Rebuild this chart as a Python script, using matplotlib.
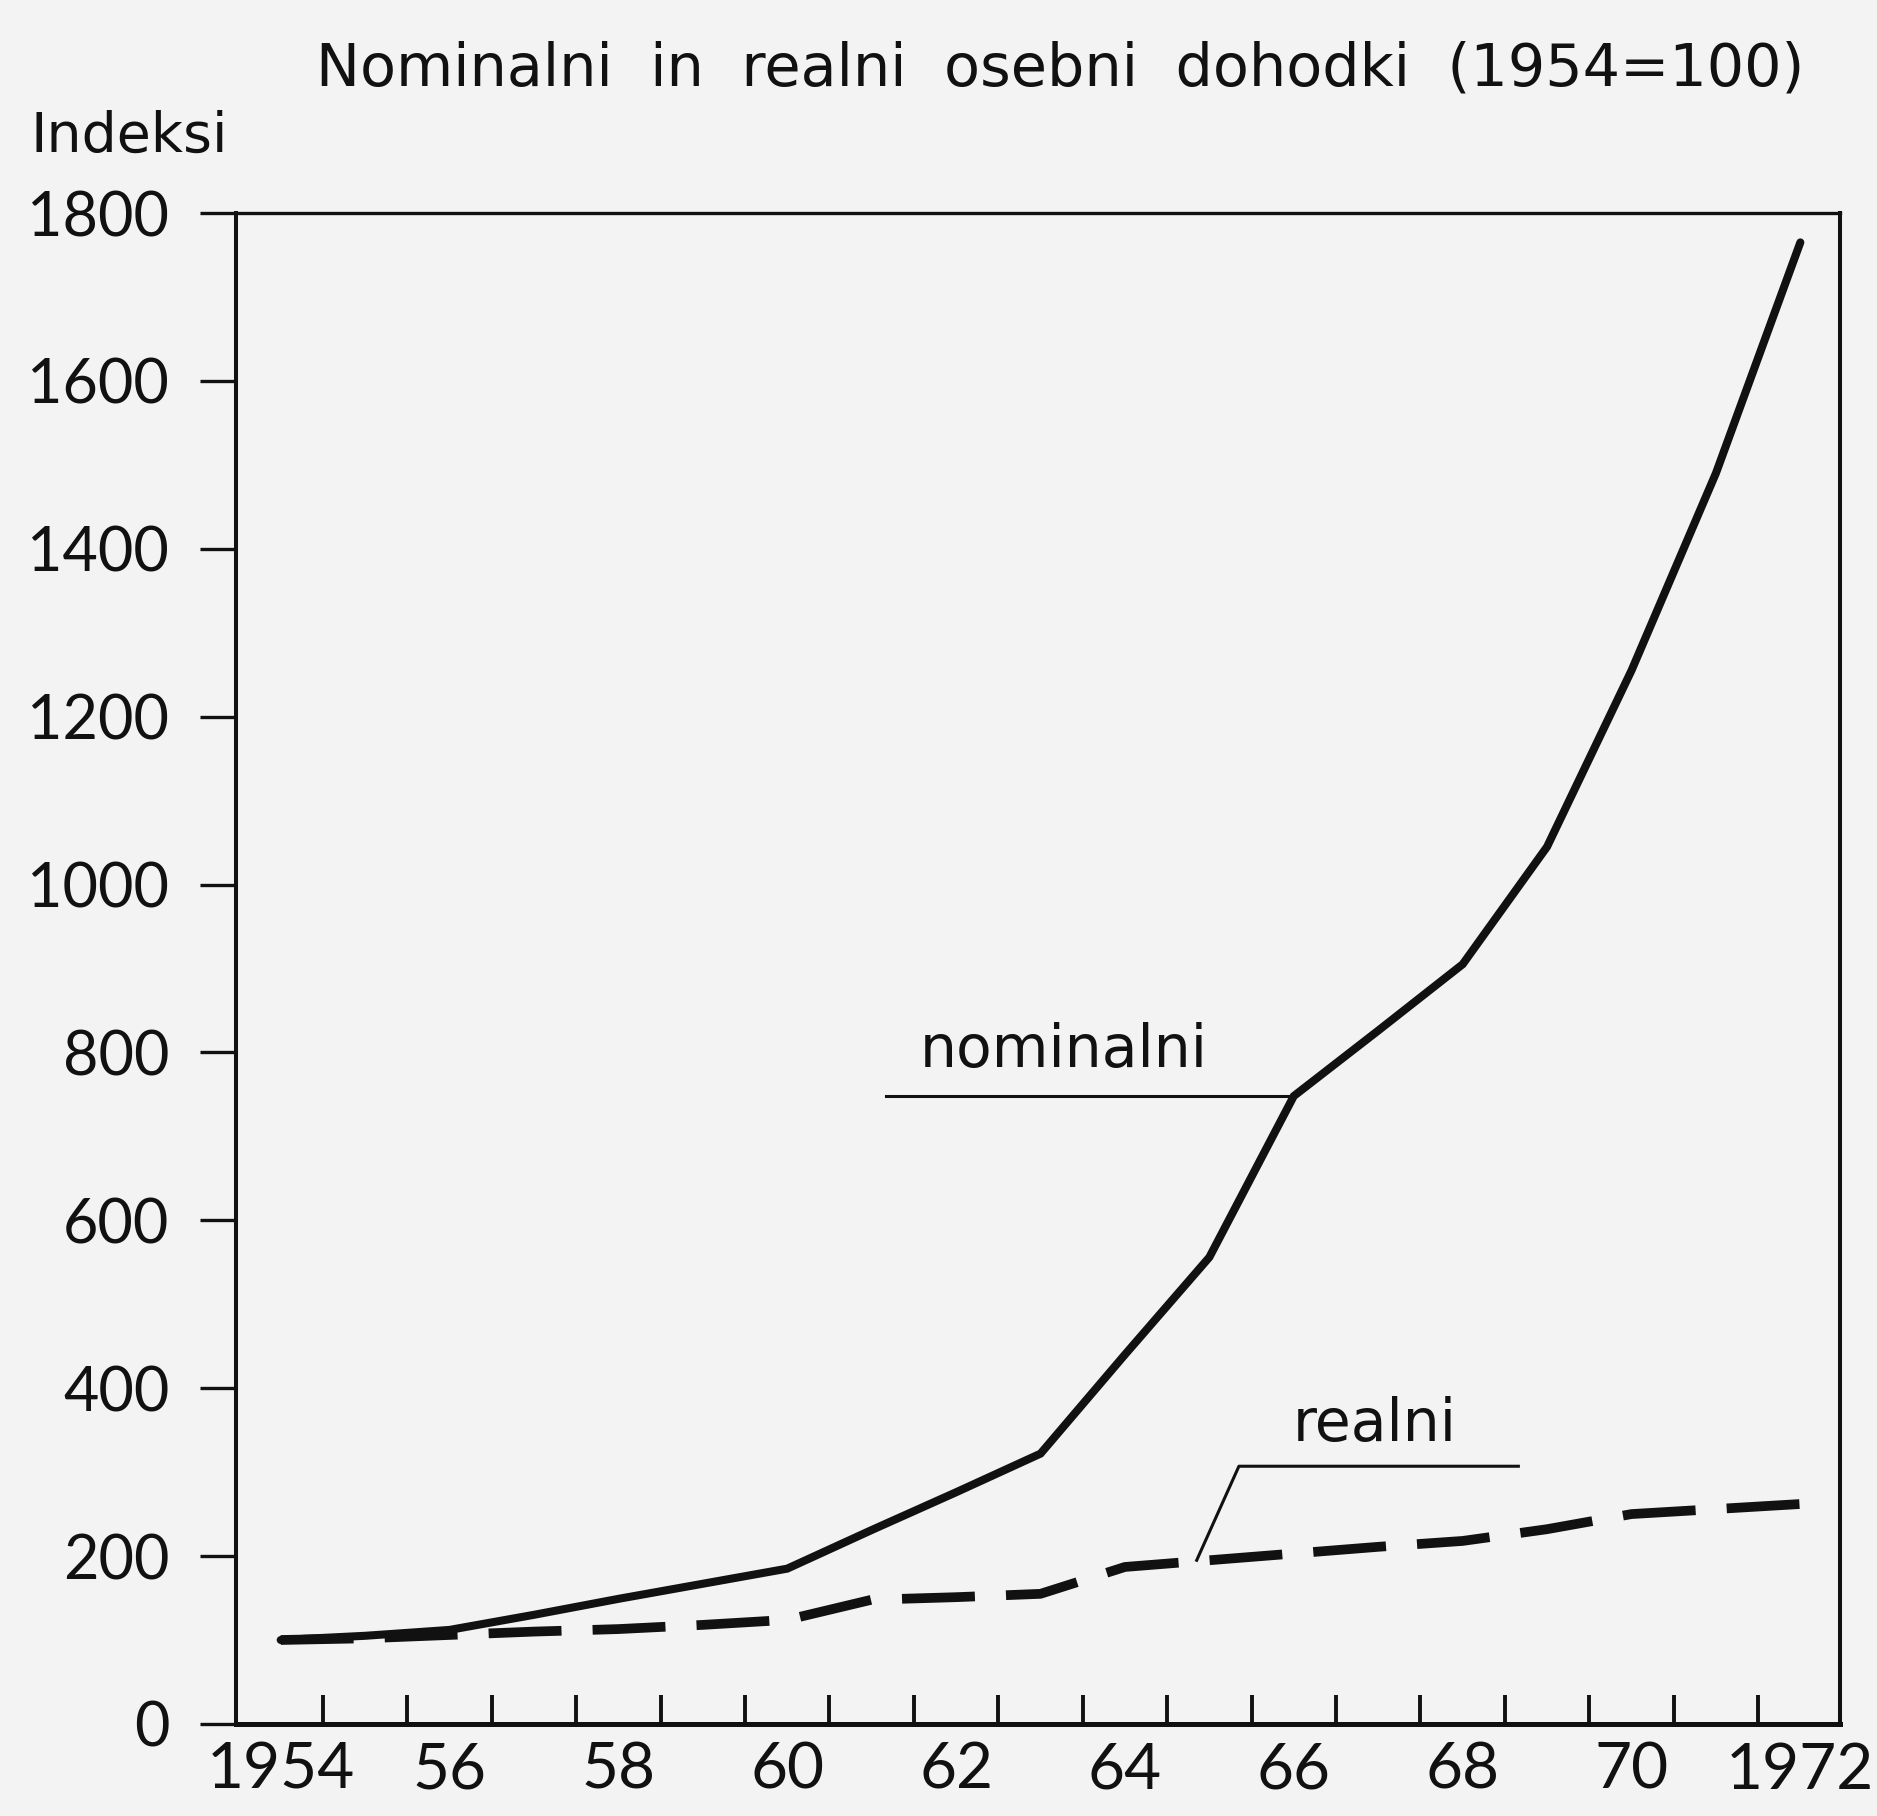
import matplotlib
matplotlib.use('Agg')
import matplotlib.pyplot as plt

# ---- data ----
years = list(range(1954, 1973))
nominalni = [100, 105, 112, 130, 149, 167, 185, 231, 276, 322,
             440, 556, 748, 826, 905, 1045, 1255, 1490, 1765]
realni = [100, 102, 106, 110, 113, 118, 124, 148, 151, 155,
          187, 195, 203, 211, 218, 232, 250, 256, 262]
y_ticks = [0, 200, 400, 600, 800, 1000, 1200, 1400, 1600, 1800]
y_tick_labels = ['0', '200', '400', '600', '800', '1000', '1200', '1400', '1600', '1800']
x_label_years = [1954, 1956, 1958, 1960, 1962, 1964, 1966, 1968, 1970, 1972]
x_labels = ['1954', '56', '58', '60', '62', '64', '66', '68', '70', '1972']
title_words = ['Nominalni', 'in', 'realni', 'osebni', 'dohodki', '(1954=100)']
y_title = 'Indeksi'
label_nom = 'nominalni'
label_real = 'realni'

NUM_FONT = ['Lato', 'DejaVu Sans']
TXT_FONT = ['DejaVu Sans']
plt.rcParams['font.family'] = NUM_FONT
BG = '#f3f3f3'
INK = '#111111'

fig = plt.figure(figsize=(18.77, 18.16), dpi=100, facecolor=BG)
ax = fig.add_axes([0.1257, 0.0507, 0.8546, 0.832])
ax.set_facecolor(BG)

ax.set_xlim(1953.47, 1972.47)
ax.set_ylim(0, 1800)

# lines
ax.plot(years, nominalni, color=INK, lw=5.8, solid_joinstyle='miter',
        solid_capstyle='round', zorder=3)
ax.plot(years, realni, color=INK, lw=7.0, linestyle=(0, (7.5, 3.2)),
        dash_capstyle='butt', zorder=3)

# spines
for side, lw in [('bottom', 3.6), ('left', 2.9), ('top', 2.4), ('right', 2.9)]:
    ax.spines[side].set_linewidth(lw)
    ax.spines[side].set_color(INK)

# y axis
ax.set_yticks(y_ticks)
ax.set_yticklabels(y_tick_labels)
ax.tick_params(axis='y', direction='out', length=26, width=2.4, pad=22,
               labelsize=44, colors=INK)

# x axis: tick marks between years (inward), labels at even years
ax.set_xticks([y + 0.5 for y in years[:-1]])
ax.set_xticklabels([])
ax.tick_params(axis='x', which='major', direction='in', length=21, width=2.8,
               colors=INK)
ax.set_xticks(x_label_years, minor=True)
ax.set_xticklabels(x_labels, minor=True)
ax.tick_params(axis='x', which='minor', length=0, pad=13, labelsize=46,
               colors=INK)

# titles
fig.text(0.565, 0.962, '  '.join(title_words), ha='center', va='center',
         fontsize=42.4, color=INK, family=TXT_FONT)
fig.text(0.016, 0.9246, y_title, ha='left', va='center', fontsize=40,
         color=INK, family=TXT_FONT)

# annotation: nominalni
i66 = years.index(1966)
ax.plot([1961.17, years[i66]], [nominalni[i66], nominalni[i66]],
        color=INK, lw=2.2, zorder=2)
ax.text(1963.28, 802, label_nom, ha='center', va='center', fontsize=42,
        color=INK, family=TXT_FONT)

# annotation: realni
i65 = years.index(1965)
ax.plot([years[i65] - 0.15, 1965.35, 1968.66],
        [realni[i65], 307, 307], color=INK, lw=2.2, zorder=2)
ax.text(1966.96, 357, label_real, ha='center', va='center', fontsize=42,
        color=INK, family=TXT_FONT)

fig.savefig('out.png', dpi=100, facecolor=BG)
